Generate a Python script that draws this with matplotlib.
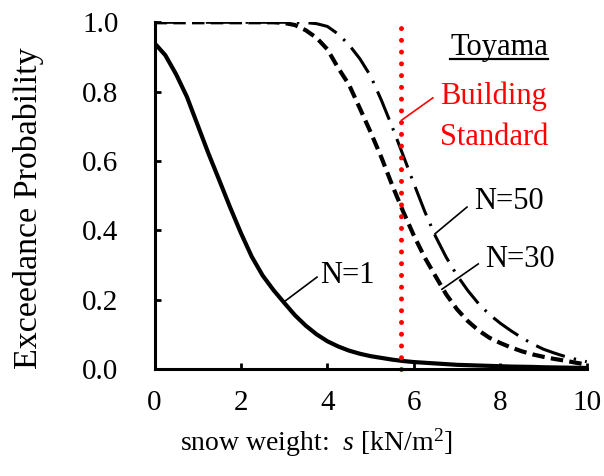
import numpy as np
import matplotlib
matplotlib.use("Agg")
import matplotlib.pyplot as plt
from matplotlib.lines import Line2D

# ---- data (at 0.25 steps) ----
s = [0.0, 0.25, 0.5, 0.75, 1.0, 1.25, 1.5, 1.75, 2.0, 2.25, 2.5, 2.75,
     3.0, 3.25, 3.5, 3.75, 4.0, 4.25, 4.5, 4.75, 5.0, 5.25, 5.5, 5.75,
     6.0, 6.25, 6.5, 6.75, 7.0, 7.25, 7.5, 7.75, 8.0, 8.25, 8.5, 8.75,
     9.0, 9.25, 9.5, 9.75, 10.0]
p_n1 = [0.94, 0.905, 0.85, 0.785, 0.703, 0.621, 0.544, 0.466, 0.392, 0.324, 0.27, 0.228,
        0.191, 0.155, 0.125, 0.10, 0.08, 0.065, 0.053, 0.044, 0.037, 0.032, 0.027, 0.023,
        0.020, 0.018, 0.016, 0.014, 0.012, 0.011, 0.010, 0.009, 0.008, 0.007, 0.0065, 0.006,
        0.005, 0.0045, 0.004, 0.0035, 0.003]
p_n30 = [1.0, 1.0, 1.0, 1.0, 1.0, 1.0, 1.0, 1.0, 1.0, 1.0, 1.0, 1.0,
         0.998, 0.992, 0.977, 0.955, 0.922, 0.868, 0.82, 0.752, 0.683, 0.61, 0.53, 0.455,
         0.385, 0.322, 0.268, 0.215, 0.172, 0.138, 0.111, 0.09, 0.075, 0.062, 0.051, 0.042,
         0.035, 0.029, 0.024, 0.018, 0.013]
p_n50 = [1.0, 1.0, 1.0, 1.0, 1.0, 1.0, 1.0, 1.0, 1.0, 1.0, 1.0, 1.0,
         1.0, 1.0, 0.999, 0.996, 0.988, 0.966, 0.935, 0.895, 0.845, 0.775, 0.698, 0.617,
         0.535, 0.455, 0.383, 0.322, 0.27, 0.226, 0.188, 0.157, 0.132, 0.11, 0.09, 0.072,
         0.057, 0.046, 0.036, 0.028, 0.021]
building_standard = 5.7
xticks = [0, 2, 4, 6, 8, 10]
yticks = [0.0, 0.2, 0.4, 0.6, 0.8, 1.0]

plt.rcParams['font.family'] = ['Liberation Serif', 'DejaVu Serif']
plt.rcParams['mathtext.fontset'] = 'custom'
plt.rcParams['mathtext.rm'] = 'Liberation Serif'
plt.rcParams['mathtext.it'] = 'Liberation Serif:italic'

fig = plt.figure(figsize=(6.04, 4.76), dpi=100)
ax = fig.add_axes([0.2558, 0.2248, 0.7156, 0.7284])

ax.plot(s, p_n1, color='black', lw=3.0, solid_capstyle='butt', solid_joinstyle='round')
ax.plot(s, p_n30, color='black', lw=3.0, linestyle=(0, (3.0, 1.5)), dash_capstyle='butt')
ax.plot(s, p_n50, color='black', lw=2.2, linestyle=(0, (10, 3, 0.8, 3)), dash_capstyle='butt')
ax.plot([building_standard, building_standard], [0, 1.0], color='#ff0000', lw=3.6,
        linestyle=(0, (0.001, 2.35)), dash_capstyle='round', clip_on=False)

ax.set_xlim(0, 10)
ax.set_ylim(0, 1.0)
ax.set_xticks(xticks)
ax.set_yticks(yticks)
ax.set_xticklabels([str(t) for t in xticks])
ax.set_yticklabels([f"{t:.1f}" for t in yticks])
for sp in ['top', 'right']:
    ax.spines[sp].set_visible(False)
for sp in ['left', 'bottom']:
    ax.spines[sp].set_linewidth(2.2)
ax.tick_params(direction='in', length=4, width=2, labelsize=21)
ax.tick_params(axis='y', pad=26)
ax.tick_params(axis='x', pad=15)

ax.set_xlabel(r'snow weight:  $s$ [kN/m$^2$]', fontsize=20)
ax.xaxis.set_label_coords(0.374, -0.165)
ax.set_ylabel('Exceedance Probability', fontsize=24.5)
ax.yaxis.set_label_coords(-0.255, 0.464)

fs = 22
toy = ax.text(6.84, 0.906, 'Toyama', fontsize=fs, ha='left', va='baseline')
ax.text(6.61, 0.764, 'Building', fontsize=fs, color='#ff0000', ha='left', va='baseline')
ax.text(6.61, 0.646, 'Standard', fontsize=fs, color='#ff0000', ha='left', va='baseline')
ax.plot([5.72, 6.44], [0.718, 0.782], color='#ff0000', lw=1.2)

ax.text(3.83, 0.248, 'N=1', fontsize=fs, ha='left', va='baseline')
ax.plot([3.0, 3.76], [0.194, 0.265], color='black', lw=1.2)
ax.text(7.39, 0.461, 'N=50', fontsize=fs, ha='left', va='baseline')
ax.plot([6.49, 7.23], [0.390, 0.467], color='black', lw=1.2)
ax.text(7.65, 0.294, 'N=30', fontsize=fs, ha='left', va='baseline')
ax.plot([6.65, 7.49], [0.230, 0.303], color='black', lw=1.2)

# underline for "Toyama"
fig.canvas.draw()
bb = toy.get_window_extent()
base_px = ax.transData.transform((6.84, 0.906))[1]
uy = base_px - 4
fig.add_artist(Line2D([bb.x0, bb.x1], [uy, uy], transform=None, color='black', lw=1.6))

fig.savefig('out.png', dpi=100)
